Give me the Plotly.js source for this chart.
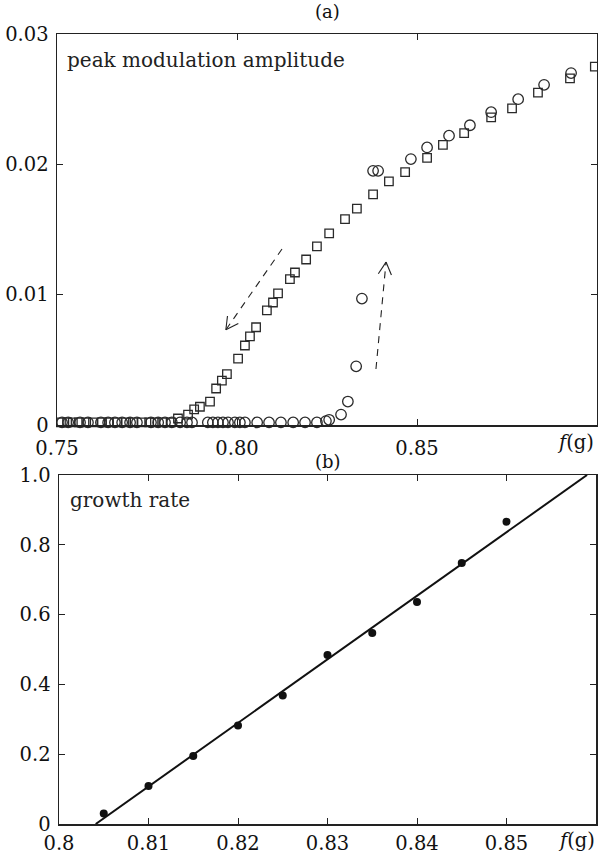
<!DOCTYPE html>
<html>
<head>
<meta charset="utf-8">
<script src="https://cdn.plot.ly/plotly-3.0.1.min.js"></script>
<style>html,body{margin:0;padding:0;background:#fff;}#chart{width:598px;height:857px;}</style>
</head>
<body>
<div id="chart"></div>
<script>
// ---- Panel (a): peak modulation amplitude ----
// squares: decreasing-f branch
const sqX = [0.7511,0.7528,0.7544,0.7561,0.7581,0.7600,0.7625,0.7644,0.7667,0.7692,0.7711,0.7736,0.7756,0.7772,0.7792,0.7817,
  0.7836,0.7864,0.7881,0.7897,0.7925,0.7942,0.7958,0.7972,0.8003,0.8022,0.8036,0.8053,0.8083,0.8100,0.8114,0.8147,0.8161,
  0.8192,0.8222,0.8256,0.8300,0.8333,0.8378,0.8422,0.8467,0.8528,0.8572,0.8631,0.8706,0.8764,0.8836,0.8925,0.8994];
const sqY = [0.0002,0.0002,0.0002,0.0002,0.0002,0.0002,0.0002,0.0002,0.0002,0.0002,0.0002,0.0002,0.0002,0.0002,0.0002,0.0002,
  0.0005,0.0008,0.0012,0.0014,0.0018,0.0028,0.0034,0.0039,0.0051,0.0061,0.0068,0.0075,0.0088,0.0094,0.0101,0.0112,0.0117,
  0.0127,0.0137,0.0147,0.0158,0.0166,0.0177,0.0187,0.0194,0.0205,0.0215,0.0224,0.0236,0.0243,0.0255,0.0266,0.0275];
// circles: increasing-f branch
const ciX = [0.7514,0.7531,0.7564,0.7586,0.7622,0.7642,0.7661,0.7681,0.7703,0.7722,0.7761,0.7781,0.7800,0.7819,0.7842,0.7861,0.7875,
  0.7919,0.7933,0.7947,0.7961,0.7975,0.7994,0.8008,0.8022,0.8056,0.8089,0.8122,0.8156,0.8189,0.8222,
  0.8247,0.8256,0.8289,0.8308,0.8331,0.8347,0.8378,0.8392,0.8483,0.8528,0.8589,0.8647,0.8706,0.8781,0.8853,0.8928];
const ciY = [0.0002,0.0002,0.0002,0.0002,0.0002,0.0002,0.0002,0.0002,0.0002,0.0002,0.0002,0.0002,0.0002,0.0002,0.0002,0.0002,0.0002,
  0.0002,0.0002,0.0002,0.0002,0.0002,0.0002,0.0002,0.0002,0.0002,0.0002,0.0002,0.0002,0.0002,0.0002,
  0.0003,0.0004,0.0008,0.0018,0.0045,0.0097,0.0195,0.0195,0.0204,0.0213,0.0222,0.0230,0.0240,0.0250,0.0261,0.0270];
// dashed arrows [x0,y0,x1(tip),y1(tip)]
const arrowDown = [0.8125, 0.01350, 0.7969, 0.00730];
const arrowUp   = [0.8386, 0.00430, 0.8414, 0.01250];

const aXTicks = [0.75, 0.80, 0.85];
const aXLabels = ["0.75", "0.80", "0.85"];
const aYTicks = [0, 0.01, 0.02, 0.03];
const aYLabels = ["0", "0.01", "0.02", "0.03"];

// ---- Panel (b): growth rate ----
const grX = [0.805,0.810,0.815,0.820,0.825,0.830,0.835,0.840,0.845,0.850];
const grY = [0.030,0.109,0.195,0.282,0.368,0.484,0.547,0.636,0.748,0.866];
const fitX = [0.8041, 0.8590];
const fitY = [0, 1.0];

const bXTicks = [0.80,0.81,0.82,0.83,0.84,0.85,0.86];
const bXLabels = ["0.8","0.81","0.82","0.83","0.84","0.85",""];
const bYTicks = [0,0.2,0.4,0.6,0.8,1.0];
const bYLabels = ["0","0.2","0.4","0.6","0.8","1.0"];

const FONT = "DejaVu Serif";
const W = 598, H = 857, ML = 57, MR = 1, MT = 34, MB = 33;
const PW = W - ML - MR, PH = H - MT - MB;
const aDomY = [(H - MB - 425) / PH, 1];
const aRangeX = [0.75, 0.90], aRangeY = [0, 0.03];

// helpers for arrowheads (computed in pixel space of panel a)
const plotH_a = PH * (aDomY[1] - aDomY[0]);
function toPx(x, y) {
  return [(x - aRangeX[0]) / (aRangeX[1] - aRangeX[0]) * PW,
          -(y - aRangeY[0]) / (aRangeY[1] - aRangeY[0]) * plotH_a];
}
function toData(px, py) {
  return [aRangeX[0] + px / PW * (aRangeX[1] - aRangeX[0]),
          aRangeY[0] + (-py) / plotH_a * (aRangeY[1] - aRangeY[0])];
}
function arrowShapes(a) {
  const p0 = toPx(a[0], a[1]), p1 = toPx(a[2], a[3]);
  const dx = p0[0] - p1[0], dy = p0[1] - p1[1];
  const L = Math.hypot(dx, dy), ux = dx / L, uy = dy / L;
  const len = 14, ang = 28 * Math.PI / 180;
  const arms = [ang, -ang].map(t => {
    const rx = ux * Math.cos(t) - uy * Math.sin(t);
    const ry = ux * Math.sin(t) + uy * Math.cos(t);
    return toData(p1[0] + rx * len, p1[1] + ry * len);
  });
  const common = {type: 'line', xref: 'x', yref: 'y', layer: 'above'};
  return [
    Object.assign({}, common, {x0: a[0], y0: a[1], x1: a[2], y1: a[3], line: {color: '#222', width: 1.1, dash: '7px,6px'}}),
    Object.assign({}, common, {x0: a[2], y0: a[3], x1: arms[0][0], y1: arms[0][1], line: {color: '#222', width: 1.1}}),
    Object.assign({}, common, {x0: a[2], y0: a[3], x1: arms[1][0], y1: arms[1][1], line: {color: '#222', width: 1.1}})
  ];
}

const traces = [
  {x: sqX, y: sqY, type: 'scatter', mode: 'markers', xaxis: 'x', yaxis: 'y',
   marker: {symbol: 'square-open', size: 8.5, color: '#2a2a2a', line: {width: 1.3, color: '#2a2a2a'}}, cliponaxis: false},
  {x: ciX, y: ciY, type: 'scatter', mode: 'markers', xaxis: 'x', yaxis: 'y',
   marker: {symbol: 'circle-open', size: 10.5, color: '#2a2a2a', line: {width: 1.3, color: '#2a2a2a'}}, cliponaxis: false},
  {x: fitX, y: fitY, type: 'scatter', mode: 'lines', xaxis: 'x2', yaxis: 'y2',
   line: {color: '#111', width: 2}},
  {x: grX, y: grY, type: 'scatter', mode: 'markers', xaxis: 'x2', yaxis: 'y2',
   marker: {symbol: 'circle', size: 8, color: '#111'}}
];

const axCommon = {
  showline: true, linecolor: '#222', linewidth: 1.5, mirror: 'ticks',
  ticks: 'inside', ticklen: 6, tickwidth: 1, tickcolor: '#222',
  showgrid: false, zeroline: false, tickmode: 'array',
  tickfont: {family: FONT, size: 19.5, color: '#111'}
};
const yAx = Object.assign({}, axCommon, {ticklabelstandoff: 3});

const layout = {
  width: W, height: H, showlegend: false,
  paper_bgcolor: '#fff', plot_bgcolor: '#fff',
  margin: {l: ML, r: MR, t: MT, b: MB},
  font: {family: FONT, color: '#111'},
  xaxis: Object.assign({}, axCommon, {ticklabelstandoff: 5, domain: [0, 1], anchor: 'y', range: aRangeX,
    tickvals: aXTicks, ticktext: aXLabels}),
  yaxis: Object.assign({}, yAx, {domain: aDomY, anchor: 'x', range: aRangeY,
    tickvals: aYTicks, ticktext: aYLabels}),
  xaxis2: Object.assign({}, axCommon, {ticklabelstandoff: 1, domain: [2 / PW, (596 - ML) / PW], anchor: 'y2', range: [0.80, 0.86],
    tickvals: bXTicks, ticktext: bXLabels}),
  yaxis2: Object.assign({}, yAx, {domain: [0, (H - MB - 475) / PH], anchor: 'x2', range: [0, 1.0],
    tickvals: bYTicks, ticktext: bYLabels}),
  shapes: [].concat(arrowShapes(arrowDown), arrowShapes(arrowUp)),
  annotations: [
    {text: '(a)', xref: 'paper', yref: 'paper', x: 0.5, y: 1, yshift: 10, xanchor: 'center', yanchor: 'bottom',
     showarrow: false, font: {family: FONT, size: 18, color: '#111'}},
    {text: '(b)', xref: 'x2 domain', yref: 'y2 domain', x: 0.5, y: 1, yshift: 1, xanchor: 'center', yanchor: 'bottom',
     showarrow: false, font: {family: FONT, size: 18, color: '#111'}},
    {text: 'peak modulation amplitude', xref: 'x domain', yref: 'y domain', x: 0, y: 1, xshift: 8, yshift: -12,
     xanchor: 'left', yanchor: 'top', showarrow: false, font: {family: FONT, size: 20, color: '#222'}},
    {text: 'growth rate', xref: 'x2 domain', yref: 'y2 domain', x: 0, y: 1, xshift: 9, yshift: -11,
     xanchor: 'left', yanchor: 'top', showarrow: false, font: {family: FONT, size: 20, color: '#222'}},
    {text: '<i>f</i>(g)', xref: 'x domain', yref: 'y domain', x: 1, y: 0, xshift: -1, yshift: -4,
     xanchor: 'right', yanchor: 'top', showarrow: false, font: {family: FONT, size: 19.5, color: '#111'}},
    {text: '<i>f</i>(g)', xref: 'x2 domain', yref: 'y2 domain', x: 1, y: 0, xshift: 1, yshift: -3,
     xanchor: 'right', yanchor: 'top', showarrow: false, font: {family: FONT, size: 19.5, color: '#111'}}
  ]
};

Plotly.newPlot('chart', traces, layout, {displayModeBar: false, staticPlot: true});
</script>
</body>
</html>
